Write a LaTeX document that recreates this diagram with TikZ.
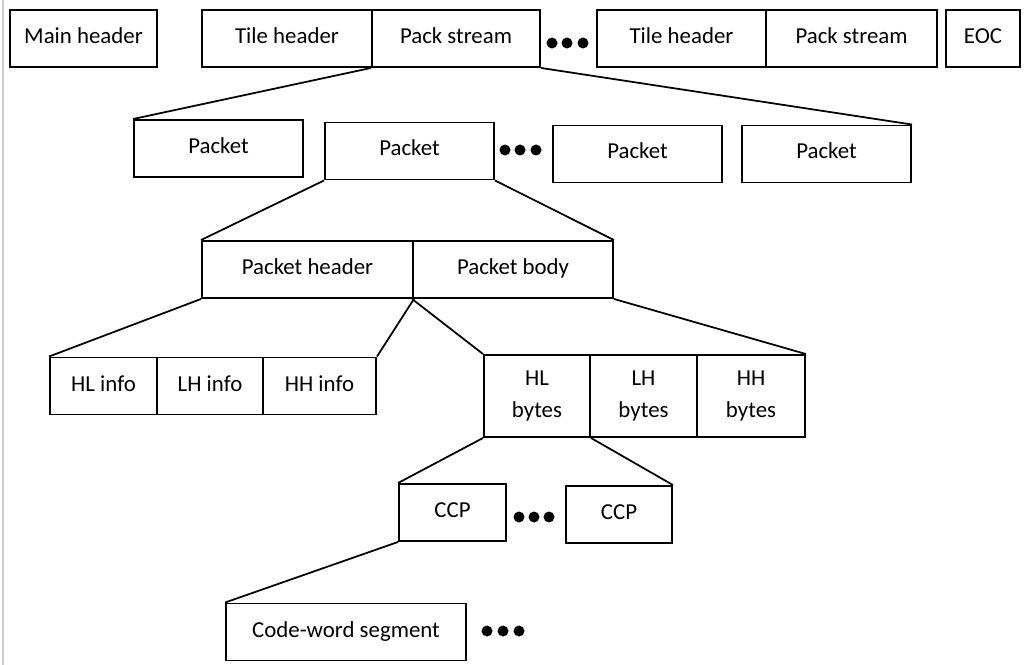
\documentclass[tikz,border=0pt]{standalone}
\usepackage{fontspec}
\setmainfont{Carlito}
\usepackage{xcolor}

\begin{document}
\begin{tikzpicture}[x=0.02cm,y=-0.02cm,
    base/.style={draw, line width=1.1pt, inner sep=0pt, align=center},
    box/.style={base, minimum height=57*0.02cm, text height=0.28cm, text depth=0.08cm,
        font=\fontsize{13}{17}\selectfont},
    tallbox/.style={base, minimum height=82*0.02cm, font=\fontsize{13}{18.5}\selectfont},
    wd/.style={minimum width=#1*0.02cm},
    link/.style={line width=1pt}]

\useasboundingbox (0,0) rectangle (1027,665);
\draw [black!20, line width=0.6pt] (3,0) -- (3,665);

% top row
\node [box, wd=147] (mainhdr) at (83.5,38.5) {Main header};
\node [box, wd=170] (tilehdrA) at (287,38.5) {Tile header};
\node [box, wd=168] (packA) at (456,38.5) {Pack stream};
\node [box, wd=169] (tilehdrB) at (681.5,38.5) {Tile header};
\node [box, wd=171] (packB) at (851.5,38.5) {Pack stream};
\node [box, wd=74] (eoc) at (983,38.5) {EOC};

% packets
\node [box, wd=169] (pktA) at (218.5,148.5) {Packet};
\node [box, wd=169] (pktB) at (409.5,151) {Packet};
\node [box, wd=169] (pktC) at (637.5,154) {Packet};
\node [box, wd=169] (pktD) at (826.5,154) {Packet};

% header and body
\node [box, wd=211] (pkthdr) at (307.5,269.5) {Packet header};
\node [box, wd=200] (pktbody) at (513,269.5) {Packet body};

\node [box, wd=107] (hlinfo) at (103.5,386) {HL info};
\node [box, wd=106] (lhinfo) at (210,386) {LH info};
\node [box, wd=113] (hhinfo) at (319.5,386) {HH info};

\node [tallbox, wd=106] (hlbytes) at (537,396) {HL\\bytes};
\node [tallbox, wd=107] (lhbytes) at (643.5,396) {LH\\bytes};
\node [tallbox, wd=108] (hhbytes) at (751,396) {HH\\bytes};

\node [box, wd=107] (ccpA) at (452.5,512.5) {CCP};
\node [box, wd=106] (ccpB) at (619,514.5) {CCP};

\node [box, wd=240] (cws) at (346,632) {Code-word segment};

\foreach \d in {552,567,583} {
    \fill (\d,43) circle (0.11cm);
}
\foreach \d in {505,520,536} {
    \fill (\d,150) circle (0.11cm);
}
\foreach \d in {519,534,549} {
    \fill (\d,517) circle (0.11cm);
}
\foreach \d in {487,503,519} {
    \fill (\d,631) circle (0.11cm);
}

\draw [link] (packA.south west) -- (pktA.north west);
\draw [link] (packA.south east) -- (pktD.north east);
\draw [link] (pktB.south west) -- (pkthdr.north west);
\draw [link] (pktB.south east) -- (pktbody.north east);
\draw [link] (pkthdr.south west) -- (hlinfo.north west);
\draw [link] (pkthdr.south east) -- (hhinfo.north east);
\draw [link] (pktbody.south west) -- (hlbytes.north west);
\draw [link] (pktbody.south east) -- (hhbytes.north east);
\draw [link] (hlbytes.south west) -- (ccpA.north west);
\draw [link] (hlbytes.south east) -- (ccpB.north east);
\draw [link] (ccpA.south west) -- (cws.north west);

\end{tikzpicture}
\end{document}
